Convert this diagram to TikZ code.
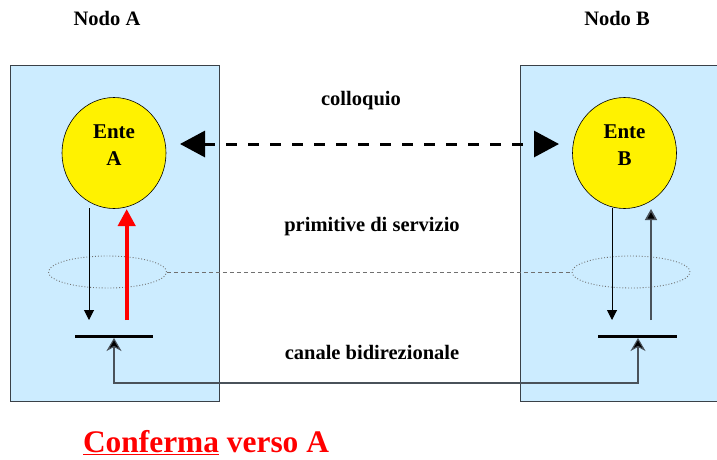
\documentclass[tikz,border=0pt]{standalone}
\usepackage{fontspec}
\setmainfont{Liberation Serif}
\usetikzlibrary{arrows.meta,shapes.geometric}
\definecolor{boxblue}{HTML}{CCECFF}
\definecolor{boxline}{HTML}{3A4148}
\definecolor{linkgray}{HTML}{4A525A}
\definecolor{dotgray}{HTML}{707070}
\begin{document}
\begin{tikzpicture}[x=1pt,y=-1pt,
  nodebox/.style={draw=boxline, line width=0.9pt, fill=boxblue, anchor=north west, inner sep=0pt},
  ente/.style={ellipse, draw=black, line width=0.6pt, fill=yellow, minimum width=104pt, minimum height=111pt, inner sep=0pt},
  entetxt/.style={align=center, inner sep=0pt, font=\bfseries\fontsize{21}{27}\selectfont},
  lbl/.style={anchor=base, inner sep=0pt, font=\bfseries\fontsize{20.5}{24}\selectfont},
  sap/.style={ellipse, draw=dotgray, dotted, line width=0.9pt, minimum width=118pt, minimum height=32pt, inner sep=0pt},
  thinarrow/.style={draw=black, line width=1pt, -{Triangle[length=10pt,width=10pt]}},
  bigarrow/.style={line width=3pt, dash pattern=on 11pt off 11pt, {Triangle[length=25pt,width=26pt]}-{Triangle[length=25pt,width=26pt]}}
]
\useasboundingbox (0,0) rectangle (717,459);

% node boxes
\node[nodebox, minimum width=209.5pt, minimum height=336pt] (boxA) at (9.5,64.5) {};
\node[nodebox, minimum width=199pt, minimum height=336pt] (boxB) at (519.5,64.5) {};

% titles
\node[lbl] (nA) at (107,25.5) {Nodo A};
\node[lbl] (nB) at (617,25.5) {Nodo B};

% entities
\node[ente] (A) at (114,153) {};
\node[entetxt] (At) at (114,145.5) {Ente\\A};
\node[ente] (B) at (624.5,153) {};
\node[entetxt] (Bt) at (624.5,145.5) {Ente\\B};

% colloquio
\node[lbl] (coll) at (361,105.5) {colloquio};
\coordinate (cl) at (180,144);
\coordinate (cr) at (559,144);
\draw[bigarrow] (cl) -- (cr);

% service access ellipses
\node[sap] (sA) at (107.5,272) {};
\node[sap] (sB) at (631,272) {};
\draw[draw=dotgray, line width=1pt, dash pattern=on 4pt off 3pt] (sA.east) -- (sB.west);
\node[lbl] (prim) at (372,231) {primitive di servizio};

% bars
\coordinate (barAl) at (75,336);
\coordinate (barAr) at (153,336);
\coordinate (barBl) at (598,336);
\coordinate (barBr) at (677,336);
\draw[line width=3pt] (barAl) -- (barAr);
\draw[line width=3pt] (barBl) -- (barBr);

% primitives in A
\coordinate (a1s) at (89,208);
\coordinate (a1e) at (89,320);
\draw[thinarrow] (a1s) -- (a1e);
\coordinate (a2s) at (126.7,320);
\coordinate (a2e) at (126.7,209);
\draw[red, line width=4pt, -{Triangle[length=17pt,width=17pt]}] (a2s) -- (a2e);

% primitives in B
\coordinate (b1s) at (612,208);
\coordinate (b1e) at (612,320);
\draw[thinarrow] (b1s) -- (b1e);
\coordinate (b2s) at (651,320);
\coordinate (b2e) at (651,209);
\draw[draw=linkgray, line width=1.5pt, -{Triangle[length=11pt,width=12pt,fill=black]}] (b2s) -- (b2e);

% bidirectional channel
\coordinate (chA) at (114,338);
\coordinate (chB) at (638,338);
\draw[draw=linkgray, line width=1.1pt, {Stealth[length=13pt,width=15pt,inset=4pt,fill=black]}-{Stealth[length=13pt,width=15pt,inset=4pt,fill=black]}] (chA) -- (114,383) -- (638,383) -- (chB);
\node[lbl] (can) at (372,359) {canale bidirezionale};

% caption
\node[anchor=base, inner sep=0pt, text=red, font=\bfseries\fontsize{31.4}{36}\selectfont] (conf) at (206,452.5) {\underline{Conferma} verso A};
\end{tikzpicture}
\end{document}
